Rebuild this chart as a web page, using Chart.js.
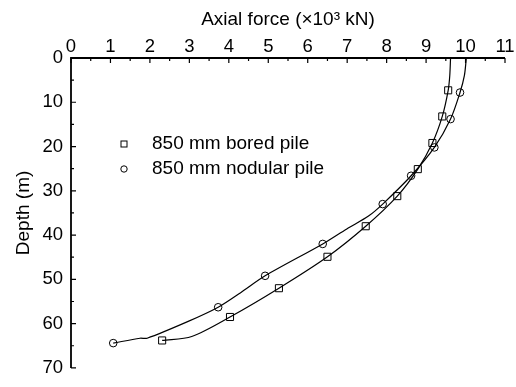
<!DOCTYPE html>
<html>
<head>
<meta charset="utf-8">
<script src="https://cdn.jsdelivr.net/npm/chart.js@4.4.1/dist/chart.umd.min.js"></script>
<style>
  html, body { margin: 0; padding: 0; background: #fff; }
  #wrap { width: 516px; height: 387px; position: relative; }
</style>
</head>
<body>
<div id="wrap"><canvas id="forceChart"></canvas></div>
<script>
// ==========================================
// DATA
// ==========================================

// 850 mm bored pile - curve (axial force ×10³ kN, depth m)
const boredForce = [9.62, 9.60, 9.56, 9.41, 9.16, 8.79, 8.27, 7.47, 6.50, 5.27, 4.03, 3.06, 2.31];
const boredDepth = [0.0, 4.0, 7.3, 13.2, 19.2, 25.1, 31.2, 38.0, 44.9, 52.0, 58.5, 62.9, 63.8];
// which of those points carry a square marker
const boredMarked = [false, false, true, true, true, true, true, true, true, true, true, false, true];

// 850 mm nodular pile - curve
const nodularForce = [10.02, 9.97, 9.86, 9.62, 9.21, 8.62, 7.90, 7.54, 6.99, 6.38, 4.92, 4.30, 3.73, 2.97, 1.93, 1.75, 1.07];
const nodularDepth = [0.0, 4.0, 7.8, 13.8, 20.2, 26.6, 33.0, 35.7, 38.6, 42.0, 49.2, 53.0, 56.3, 59.5, 63.3, 63.3, 64.4];
const nodularMarked = [false, false, true, true, true, true, true, false, false, true, true, false, true, false, false, false, true];

const seriesNames = ['850 mm bored pile', '850 mm nodular pile'];

// axis ranges
const forceMin = 0, forceMax = 11, forceStep = 0.5;
const depthMin = 0, depthMax = 70, depthStep = 5;

const FONT = '"Liberation Sans", Arial, Helvetica, sans-serif';

function toPoints(xs, ys) {
    return xs.map((x, i) => ({ x: x, y: ys[i] }));
}

// ==========================================
// PLUGINS
// ==========================================

// inward ticks + axis lines on the top and left edges
const inwardAxes = {
    id: 'inwardAxes',
    afterDraw(chart) {
        const { ctx, chartArea: a, scales: { x, y } } = chart;
        ctx.save();
        ctx.strokeStyle = '#000';
        ctx.lineWidth = 1.8;
        ctx.beginPath();
        ctx.moveTo(a.left, a.bottom);
        ctx.lineTo(a.left, a.top);
        ctx.lineTo(a.right, a.top);
        ctx.stroke();

        ctx.lineWidth = 1.2;
        ctx.beginPath();
        x.ticks.forEach(t => {
            const px = x.getPixelForValue(t.value);
            const len = Number.isInteger(t.value) ? 5 : 3;
            ctx.moveTo(px, a.top);
            ctx.lineTo(px, a.top + len);
        });
        y.ticks.forEach(t => {
            const py = y.getPixelForValue(t.value);
            const len = t.value % 10 === 0 ? 5 : 3;
            ctx.moveTo(a.left, py);
            ctx.lineTo(a.left + len, py);
        });
        ctx.stroke();
        ctx.restore();
    }
};

// legend drawn inside the plot area
const innerLegend = {
    id: 'innerLegend',
    afterDraw(chart) {
        const { ctx, chartArea: a } = chart;
        const mx = a.left + 53, tx = a.left + 81;
        const rows = [a.top + 86, a.top + 111];
        ctx.save();
        ctx.strokeStyle = '#000';
        ctx.lineWidth = 1;
        ctx.fillStyle = '#000';
        ctx.font = '19px ' + FONT;
        ctx.textBaseline = 'middle';

        ctx.strokeRect(mx - 3, rows[0] - 3, 6, 6);
        ctx.beginPath();
        ctx.arc(mx, rows[1], 3.2, 0, Math.PI * 2);
        ctx.stroke();

        ctx.fillText(seriesNames[0], tx, rows[0]);
        ctx.fillText(seriesNames[1], tx, rows[1]);
        ctx.restore();
    }
};

// ==========================================
// CHART
// ==========================================

const ctx = document.getElementById('forceChart');

new Chart(ctx, {
    type: 'scatter',
    data: {
        datasets: [
            {
                label: seriesNames[0],
                data: toPoints(boredForce, boredDepth),
                showLine: true,
                tension: 0.3,
                borderColor: '#000',
                borderWidth: 1.2,
                backgroundColor: 'rgba(0,0,0,0)',
                pointStyle: 'rect',
                pointRadius: boredMarked.map(m => m ? 5 : 0),
                pointBorderColor: '#000',
                pointBorderWidth: 1,
                pointBackgroundColor: 'rgba(0,0,0,0)'
            },
            {
                label: seriesNames[1],
                data: toPoints(nodularForce, nodularDepth),
                showLine: true,
                tension: 0.3,
                borderColor: '#000',
                borderWidth: 1.2,
                backgroundColor: 'rgba(0,0,0,0)',
                pointStyle: 'circle',
                pointRadius: nodularMarked.map(m => m ? 3.8 : 0),
                pointBorderColor: '#000',
                pointBorderWidth: 1,
                pointBackgroundColor: 'rgba(0,0,0,0)'
            }
        ]
    },
    options: {
        responsive: true,
        maintainAspectRatio: false,
        animation: false,
        layout: { padding: { left: 0, top: 0, right: 11, bottom: 5 } },
        plugins: {
            legend: { display: false },
            tooltip: { enabled: false }
        },
        scales: {
            x: {
                type: 'linear',
                position: 'top',
                min: forceMin,
                max: forceMax,
                afterFit: s => { s.height = 58; },
                grid: { display: false, drawTicks: false },
                border: { display: false },
                ticks: {
                    stepSize: forceStep,
                    autoSkip: false,
                    maxRotation: 0,
                    padding: 0,
                    color: '#000',
                    font: { family: FONT, size: 18.5 },
                    callback: v => Number.isInteger(v) ? String(v) : ''
                },
                title: {
                    display: true,
                    text: 'Axial force (×10³ kN)',
                    color: '#000',
                    font: { family: FONT, size: 19 },
                    padding: { top: 8, bottom: 0 }
                }
            },
            y: {
                type: 'linear',
                reverse: true,
                min: depthMin,
                max: depthMax,
                afterFit: s => { s.width = 71; },
                grid: { display: false, drawTicks: false },
                border: { display: false },
                ticks: {
                    stepSize: depthStep,
                    autoSkip: false,
                    padding: 8,
                    color: '#000',
                    font: { family: FONT, size: 18.5 },
                    callback: v => v % 10 === 0 ? String(v) : ''
                },
                title: {
                    display: true,
                    text: 'Depth (m)',
                    color: '#000',
                    font: { family: FONT, size: 19 },
                    padding: { top: 12, bottom: 0 }
                }
            }
        }
    },
    plugins: [inwardAxes, innerLegend]
});
</script>
</body>
</html>
